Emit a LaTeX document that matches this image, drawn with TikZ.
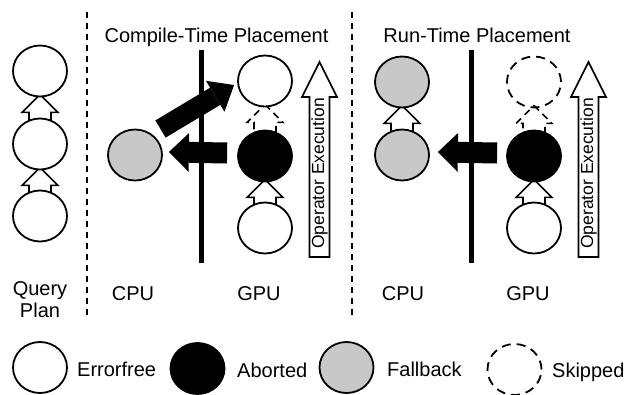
\documentclass[tikz,border=0pt]{standalone}
\usepackage{fontspec}
\setmainfont{Liberation Sans}
\usetikzlibrary{arrows.meta,shapes.geometric,calc}
\definecolor{fbgray}{RGB}{200,200,200}
\pgfdeclarelayer{bg}
\pgfsetlayers{bg,main}
\tikzset{
 op/.style={ellipse, draw, line width=1.8pt, minimum width=54pt, minimum height=51pt, inner sep=0pt, fill=white},
 errfree/.style={op},
 aborted/.style={op, fill=black},
 fallback/.style={op, fill=fbgray},
 skipped/.style={op, dash pattern=on 9pt off 6pt, fill=none},
 hollow/.style={draw, fill=white, line width=1.6pt, line join=miter},
 hollowdash/.style={hollow, dash pattern=on 7pt off 5pt},
 bigarrow/.style={line width=21pt, -{Triangle[length=20pt,width=39pt,line width=0pt]}},
 sep/.style={line width=2pt, dash pattern=on 6pt off 5pt},
 cpugpu/.style={line width=5pt},
 lbl/.style={font=\fontsize{20}{22}\selectfont, inner sep=0pt},
 oelbl/.style={font=\fontsize{17.5}{20}\selectfont, inner sep=0pt, rotate=90},
}
\newcommand{\hollowup}[3]{%
 \draw[#1] let \p1=(#3.south), \p2=(#2.north) in
 (\x1,\y1+3pt) -- (\x1+18pt,\y1-15pt) -- (\x1+11pt,\y1-15pt) -- (\x1+11pt,\y2-5pt)
 -- (\x1-11pt,\y2-5pt) -- (\x1-11pt,\y1-15pt) -- (\x1-18pt,\y1-15pt) -- cycle;}
\begin{document}
\begin{tikzpicture}[x=1pt,y=-1pt]
\useasboundingbox (0,0) rectangle (628,394);
% separators
\draw[sep] (87,12) -- (87,318);
\draw[sep] (352,12) -- (352,318);
% CPU/GPU lines
\draw[cpugpu] (201,50) -- (201,263);
\draw[cpugpu] (471,50) -- (471,263);
% titles
\node[lbl, anchor=base] (t1) at (216.5,42) {Compile-Time Placement};
\node[lbl, anchor=base] (t2) at (477,42) {Run-Time Placement};
% query plan
\node[errfree] (q1) at (40,71) {};
\node[errfree] (q2) at (40,144) {};
\node[errfree] (q3) at (40,216) {};
% compile-time
\node[fallback] (cg) at (135,155) {};
\node[errfree] (ct) at (265,81) {};
\node[aborted] (cb) at (265,156) {};
\node[errfree] (cw) at (265,228) {};
% run-time
\node[fallback] (rc1) at (402,82) {};
\node[fallback] (rc2) at (402,155) {};
\node[skipped] (rs) at (534,82) {};
\node[aborted] (rb) at (534,156) {};
\node[errfree] (rw) at (534,228) {};
% hollow arrows behind circles
\begin{pgfonlayer}{bg}
\hollowup{hollow}{q2}{q1}
\hollowup{hollow}{q3}{q2}
\hollowup{hollowdash}{cb}{ct}
\hollowup{hollow}{cw}{cb}
\hollowup{hollow}{rc2}{rc1}
\hollowup{hollowdash}{rb}{rs}
\hollowup{hollow}{rw}{rb}
\end{pgfonlayer}
% big black arrows
\draw[bigarrow] ([shift={(-10pt,3pt)}]cb.west) -- ([shift={(6pt,3pt)}]cg.east);
\draw[bigarrow] ([shift={(-9pt,3pt)}]rb.west) -- ([shift={(8pt,3pt)}]rc2.east);
\draw[line width=20pt, -{Triangle[length=22pt,width=36pt,line width=0pt]}]
 ([shift={(25.5pt,26pt)}]cg.center) -- ([shift={(-3pt,-4pt)}]ct.west);
% operator execution arrows
\draw[hollow] (309.5,257) -- (309.5,97) -- (302,97) -- (319.5,62) -- (337,97) -- (329.5,97) -- (329.5,257) -- cycle;
\node[oelbl] (oe1) at (319.5,173.5) {Operator Execution};
\draw[hollow] (578.5,257) -- (578.5,97) -- (571,97) -- (588.5,62) -- (606,97) -- (598.5,97) -- (598.5,257) -- cycle;
\node[oelbl] (oe2) at (588.5,173.5) {Operator Execution};
% column labels
\node[lbl, anchor=base] (qpa) at (40,295) {Query};
\node[lbl, anchor=base] (qpb) at (40,317) {Plan};
\node[lbl, anchor=base] (l1) at (133,300) {CPU};
\node[lbl, anchor=base] (l2) at (259,300) {GPU};
\node[lbl, anchor=base] (l3) at (403,300) {CPU};
\node[lbl, anchor=base] (l4) at (528,300) {GPU};
% legend
\node[errfree] (k1) at (40,367.5) {};
\node[lbl, anchor=base west] (k1t) at (77,376) {Errorfree};
\node[aborted] (k2) at (197.5,368.5) {};
\node[lbl, anchor=base west] (k2t) at (237,377) {Aborted};
\node[fallback] (k3) at (346.5,367.5) {};
\node[lbl, anchor=base west] (k3t) at (387,376) {Fallback};
\node[skipped] (k4) at (514.5,369.5) {};
\node[lbl, anchor=base west] (k4t) at (552,377) {Skipped};
\end{tikzpicture}
\end{document}
